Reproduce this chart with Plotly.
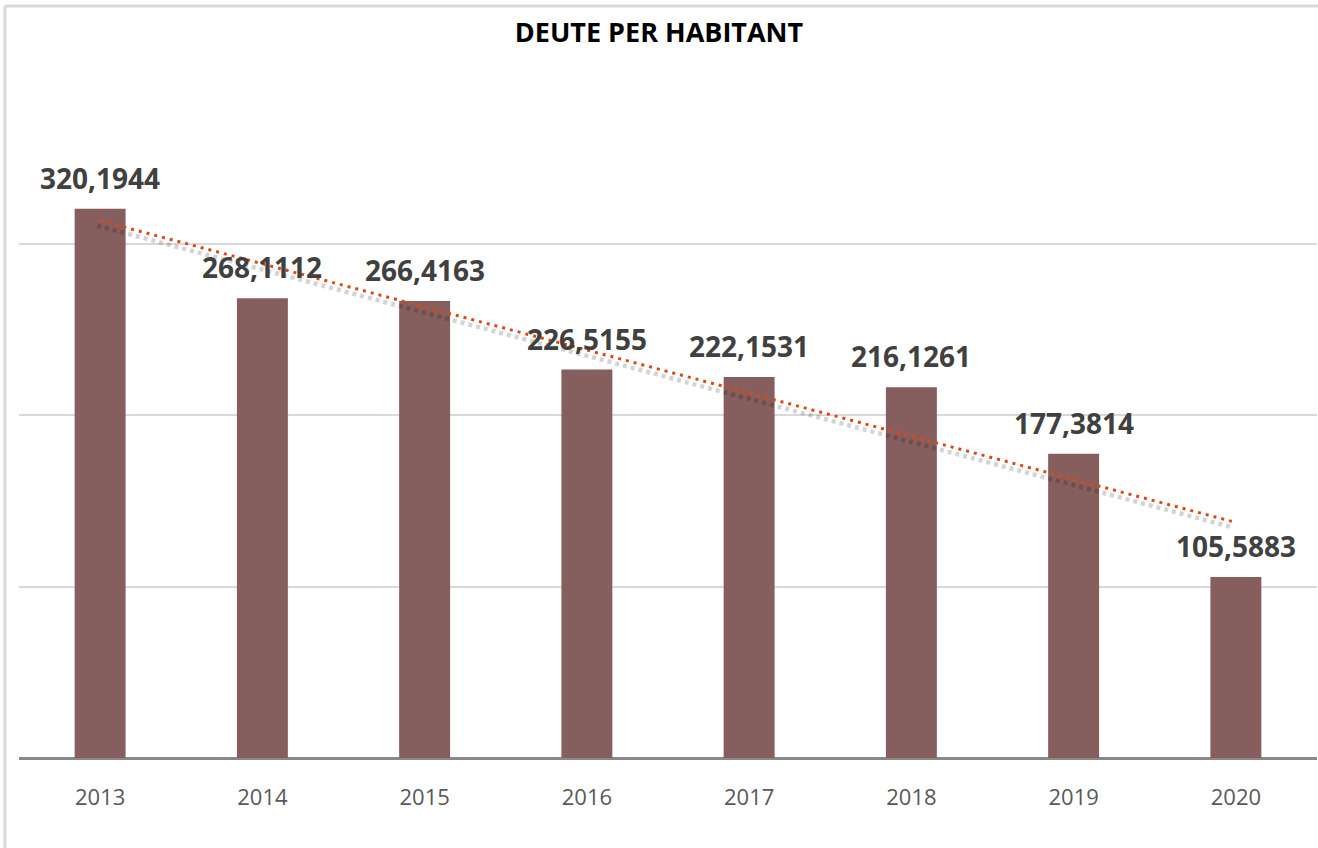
import numpy as np
import plotly.graph_objects as go

years = ["2013", "2014", "2015", "2016", "2017", "2018", "2019", "2020"]
debt_per_capita = [320.1944, 268.1112, 266.4163, 226.5155, 222.1531, 216.1261, 177.3814, 105.5883]
y_gridlines = [0, 100, 200, 300, 400]

positions = np.arange(len(years))
values = np.array(debt_per_capita)
# Excel-style linear trendline fitted to the bars
slope, intercept = np.polyfit(positions, values, 1)
trend = slope * positions + intercept

labels = [f"{v:.4f}".replace(".", ",") for v in debt_per_capita]

fig = go.Figure()
fig.add_trace(go.Bar(x=positions, y=values, width=0.314, marker={"color": "#855E5D", "line": {"width": 0}},
                     hoverinfo="skip", showlegend=False))
# soft shadow under the trendline
fig.add_trace(go.Scatter(x=positions[[0, -1]] - 0.018, y=trend[[0, -1]] - 2.9, mode="lines",
                         line={"color": "rgba(0,0,0,0.17)", "width": 4.5, "dash": "4px,4px"},
                         hoverinfo="skip", showlegend=False))
fig.add_trace(go.Scatter(x=positions[[0, -1]], y=trend[[0, -1]], mode="lines",
                         line={"color": "#DC4A14", "width": 3, "dash": "3px,5px"},
                         hoverinfo="skip", showlegend=False))

for x, v, t in zip(positions, values, labels):
    fig.add_annotation(x=x, y=v, text=f"<b>{t}</b>", showarrow=False, yanchor="bottom", yshift=10,
                       font={"family": "Open Sans", "size": 28, "color": "#404040"})

# outer chart border (left and top visible in the crop)
fig.add_shape(type="line", xref="paper", yref="paper", x0=-0.0108, x1=-0.0108, y0=-0.2, y1=1.0962,
              line={"color": "#D9D9D9", "width": 3})
fig.add_shape(type="line", xref="paper", yref="paper", x0=-0.0108, x1=1.01, y0=1.0962, y1=1.0962,
              line={"color": "#D9D9D9", "width": 3})

fig.update_layout(
    width=1318, height=848,
    margin={"l": 19, "r": 1, "t": 72, "b": 90},
    plot_bgcolor="#ffffff", paper_bgcolor="#ffffff",
    title={"text": "<b>DEUTE PER HABITANT</b>", "x": 0.5, "xanchor": "center", "y": 0.962, "yanchor": "middle",
           "font": {"family": "Open Sans", "size": 27, "color": "#000000"}},
    font={"family": "Open Sans"},
)
fig.update_xaxes(range=[-0.5, len(years) - 0.5], tickvals=positions, ticktext=years, showgrid=False,
                 ticks="", tickfont={"size": 22, "color": "#595959"}, showline=False, zeroline=False,
                 ticklabelstandoff=24, fixedrange=True)
fig.update_yaxes(range=[0, 400], tickvals=y_gridlines, showticklabels=False, showgrid=True,
                 gridcolor="#D9D9D9", gridwidth=2, zeroline=True, zerolinecolor="#898989", zerolinewidth=2.5,
                 showline=False, fixedrange=True)

fig.write_html("out.html", config={"displayModeBar": False}, post_script="document.body.style.margin='0';")
